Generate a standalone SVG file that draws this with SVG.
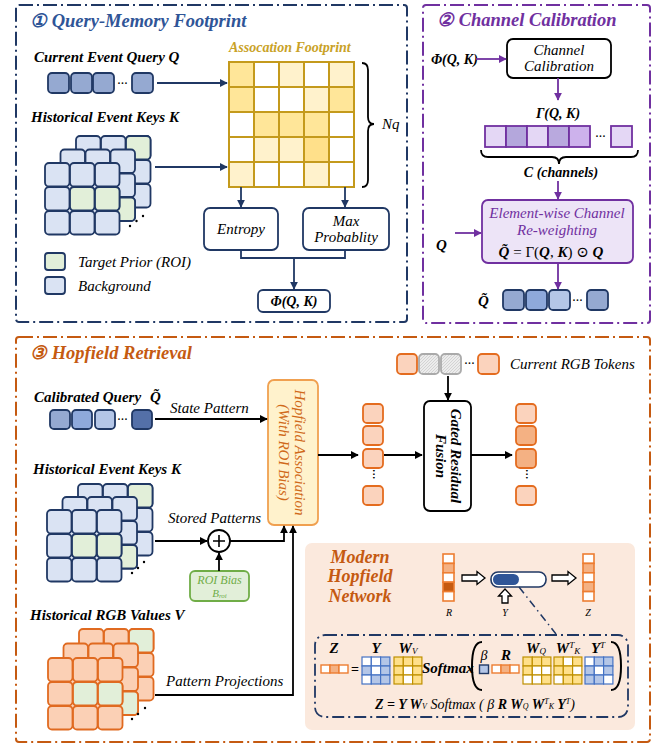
<svg xmlns="http://www.w3.org/2000/svg" width="672" height="747" viewBox="0 0 672 747">
<style>
text{font-family:"Liberation Serif","DejaVu Serif",serif;font-style:italic}
.b{font-weight:bold}
.ttl{font-size:18.5px;font-weight:bold}
.t14{font-size:14px}
.t15{font-size:15px}
.kb{fill:#dae3f3;stroke:#203864;stroke-width:1.8}
.kg{fill:#e2efd9;stroke:#203864;stroke-width:1.8}
.rb{fill:#fbd0b5;stroke:#e06a20;stroke-width:1.8}
.rg{fill:#e2efd9;stroke:#e06a20;stroke-width:1.8}
.qt{stroke:#203864;stroke-width:1.8}
.ot{fill:#fbd3bd;stroke:#e46c1f;stroke-width:1.8}
.od{fill:#f4b183;stroke:#e46c1f;stroke-width:1.8}
.gc{stroke:#c49a1c;stroke-width:2}
.ln{fill:none;stroke-width:1.8}
.nv{stroke:#203864}
.pu{stroke:#7030a0}
.bk{stroke:#000}
.panel{fill:none;stroke-width:2;stroke-dasharray:14 4 2 4}
.mb{stroke:#4472c4;stroke-width:1.2}
.mg{stroke:#bf9000;stroke-width:1.2}
.hol{fill:#fff;stroke:#000;stroke-width:1.3}
</style>
<defs>
<marker id="aN" viewBox="0 0 10 10" refX="9" refY="5" markerWidth="8" markerHeight="8" markerUnits="userSpaceOnUse" orient="auto"><path d="M0,0 L10,5 L0,10 z" fill="#203864"/></marker>
<marker id="aP" viewBox="0 0 10 10" refX="9" refY="5" markerWidth="8" markerHeight="8" markerUnits="userSpaceOnUse" orient="auto"><path d="M0,0 L10,5 L0,10 z" fill="#7030a0"/></marker>
<marker id="aK" viewBox="0 0 10 10" refX="9" refY="5" markerWidth="8" markerHeight="8" markerUnits="userSpaceOnUse" orient="auto"><path d="M0,0 L10,5 L0,10 z" fill="#000"/></marker>
<pattern id="hatch" width="3" height="3" patternUnits="userSpaceOnUse"><rect width="3" height="3" fill="#ececec"/><path d="M0,3 L3,0" stroke="#c8c8c8" stroke-width="0.7"/></pattern>
<g id="layer">
<rect x="0" y="0" width="24.5" height="23.5" rx="4"/><rect x="25" y="0" width="24.5" height="23.5" rx="4"/><rect x="50" y="0" width="24.5" height="23.5" rx="4"/>
<rect x="0" y="24" width="24.5" height="23.5" rx="4"/><rect x="25" y="24" width="24.5" height="23.5" rx="4"/><rect x="50" y="24" width="24.5" height="23.5" rx="4"/>
<rect x="0" y="48" width="24.5" height="23.5" rx="4"/><rect x="25" y="48" width="24.5" height="23.5" rx="4"/><rect x="50" y="48" width="24.5" height="23.5" rx="4"/>
</g>
</defs>
<rect width="672" height="747" fill="#fff"/>

<!-- Panel borders -->
<rect class="panel" x="16" y="5" width="391" height="317" rx="3" stroke="#203864"/>
<rect class="panel" x="423" y="5" width="227" height="318" rx="3" stroke="#7030a0"/>
<rect class="panel" x="16" y="337" width="634" height="405" rx="3" stroke="#c55a11"/>

<!-- ===== Panel 1 ===== -->
<g id="panel1-title"><text class="ttl" x="30" y="27" fill="#2f5597">① Query-Memory Footprint</text></g>
<g id="query-Q">
<text class="t15 b" x="34" y="62">Current Event Query Q</text>
<rect class="qt" x="48" y="73" width="21" height="20" rx="4" fill="#95a9d1"/>
<rect class="qt" x="71" y="73" width="21" height="20" rx="4" fill="#95a9d1"/>
<rect class="qt" x="93" y="73" width="21" height="20" rx="4" fill="#95a9d1"/>
<text class="t14" x="117" y="88">···</text>
<rect class="qt" x="132" y="73" width="21" height="20" rx="4" fill="#95a9d1"/>
</g>
<g id="keys-K">
<text class="t15 b" x="31" y="122">Historical Event Keys K</text>
<use href="#layer" class="kb" x="76" y="136"/>
<rect class="kg" x="126" y="136" width="24.5" height="23.5" rx="4"/>
<use href="#layer" class="kb" x="60.5" y="149.5"/>
<rect class="kg" x="110.5" y="197.5" width="24.5" height="23.5" rx="4"/>
<use href="#layer" class="kb" x="45" y="163"/>
<rect class="kg" x="70" y="187" width="24.5" height="23.5" rx="4"/>
<rect class="kg" x="95" y="187" width="24.5" height="23.5" rx="4"/>
<circle cx="130" cy="226" r="1.2"/><circle cx="136.5" cy="221" r="1.2"/><circle cx="143" cy="216" r="1.2"/>
</g>
<g id="legend">
<rect class="kg" x="45" y="253" width="20" height="17" rx="3"/>
<text class="t15" x="78" y="267">Target Prior (ROI)</text>
<rect class="kb" x="45" y="277" width="20" height="17" rx="3"/>
<text class="t15" x="78" y="291">Background</text>
</g>
<g id="footprint">
<text class="t14 b" x="229" y="52" fill="#c9a227">Assocation Footprint</text>
<rect x="229" y="62" width="25" height="25" fill="#ffe699"/><rect x="254" y="62" width="25" height="25" fill="#fff"/><rect x="279" y="62" width="25" height="25" fill="#fff2cc"/><rect x="304" y="62" width="25" height="25" fill="#fff"/><rect x="329" y="62" width="25" height="25" fill="#fff2cc"/>
<rect x="229" y="87" width="25" height="25" fill="#ffe699"/><rect x="254" y="87" width="25" height="25" fill="#fff"/><rect x="279" y="87" width="25" height="25" fill="#fff"/><rect x="304" y="87" width="25" height="25" fill="#fff2cc"/><rect x="329" y="87" width="25" height="25" fill="#ffe699"/>
<rect x="229" y="112" width="25" height="25" fill="#fff"/><rect x="254" y="112" width="25" height="25" fill="#ffe699"/><rect x="279" y="112" width="25" height="25" fill="#ffe699"/><rect x="304" y="112" width="25" height="25" fill="#ffe699"/><rect x="329" y="112" width="25" height="25" fill="#fff"/>
<rect x="229" y="137" width="25" height="25" fill="#fff"/><rect x="254" y="137" width="25" height="25" fill="#fff2cc"/><rect x="279" y="137" width="25" height="25" fill="#fff2cc"/><rect x="304" y="137" width="25" height="25" fill="#ffe08a"/><rect x="329" y="137" width="25" height="25" fill="#fff"/>
<rect x="229" y="162" width="25" height="25" fill="#fff2cc"/><rect x="254" y="162" width="25" height="25" fill="#fff"/><rect x="279" y="162" width="25" height="25" fill="#fff"/><rect x="304" y="162" width="25" height="25" fill="#fff2cc"/><rect x="329" y="162" width="25" height="25" fill="#fff"/>
<path class="gc" fill="none" d="M229,62 H354 V187 H229 Z M254,62 V187 M279,62 V187 M304,62 V187 M329,62 V187 M229,87 H354 M229,112 H354 M229,137 H354 M229,162 H354"/>
<path class="ln bk" d="M362,63 Q368,63 368,70 L368,117 Q368,124 374,124 Q368,124 368,131 L368,180 Q368,187 362,187"/>
<text class="t15" x="382" y="129">Nq</text>
</g>
<g id="entropy"><rect class="ln nv" x="204" y="208" width="74" height="42" rx="6" fill="#fff"/><text class="t15" x="241" y="234" text-anchor="middle">Entropy</text></g>
<g id="maxprob"><rect class="ln nv" x="303" y="208" width="86" height="42" rx="6" fill="#fff"/><text class="t15" x="346" y="226" text-anchor="middle">Max</text><text class="t15" x="346" y="242" text-anchor="middle">Probablity</text></g>
<g id="phi"><rect class="ln nv" x="258" y="290" width="72" height="22" rx="5" fill="#fff"/><text class="t14 b" x="294" y="306" text-anchor="middle">Φ(Q, K)</text></g>

<!-- ===== Panel 2 ===== -->
<g id="panel2-title"><text class="ttl" x="437" y="26" fill="#7030a0">② Channel Calibration</text></g>
<g id="phi-in"><text class="t14 b" x="431" y="64">Φ(Q, K)</text></g>
<g id="channel-cal"><rect class="ln bk" x="507" y="39" width="104" height="39" rx="6" fill="#fff"/><text class="t15" x="559" y="55" text-anchor="middle">Channel</text><text class="t15" x="559" y="71" text-anchor="middle">Calibration</text></g>
<g id="gamma">
<text class="t14 b" x="558" y="118" text-anchor="middle">Γ(Q, K)</text>
<g stroke="#7030a0" stroke-width="1.8">
<rect x="485" y="126" width="21" height="21" fill="#e4d7f5"/><rect x="506" y="126" width="21" height="21" fill="#b4a7dc"/><rect x="527" y="126" width="21" height="21" fill="#e4d7f5"/><rect x="548" y="126" width="21" height="21" fill="#b9a9de"/><rect x="569" y="126" width="21" height="21" fill="#cdb2ec"/><rect x="611" y="126" width="21" height="21" fill="#e4d7f5"/>
</g>
<text class="t14" x="595" y="141">···</text>
<path class="ln bk" d="M481,150 Q481,157 488,157 L552,157 Q559,157 559,164 Q559,157 566,157 L631,157 Q638,157 638,150"/>
<text class="t14 b" x="561" y="177" text-anchor="middle">C (channels)</text>
</g>
<g id="reweight">
<rect x="482" y="200" width="151" height="63" rx="6" fill="#ede4f7" stroke="#7030a0" stroke-width="1.8"/>
<text class="t15" x="557" y="218" text-anchor="middle" fill="#7030a0">Element-wise Channel</text>
<text class="t15" x="557" y="235" text-anchor="middle" fill="#7030a0">Re-weighting</text>
<text class="t15" x="551" y="257" text-anchor="middle"><tspan class="b">Q̃</tspan><tspan style="font-style:normal"> = Γ(</tspan><tspan class="b">Q</tspan><tspan style="font-style:normal">, </tspan><tspan class="b">K</tspan><tspan style="font-style:normal">) ⊙ </tspan><tspan class="b">Q</tspan></text>
</g>
<g id="q-in2"><text class="t15 b" x="436" y="250">Q</text></g>
<g id="qtilde-out">
<text class="t15 b" x="478" y="306">Q̃</text>
<rect class="qt" x="503" y="290" width="21" height="20" rx="4" fill="#95a9d1"/>
<rect class="qt" x="526" y="290" width="21" height="20" rx="4" fill="#8ea9db"/>
<rect class="qt" x="549" y="290" width="21" height="20" rx="4" fill="#b4c6e7"/>
<text class="t14" x="572" y="305">···</text>
<rect class="qt" x="587" y="290" width="21" height="20" rx="4" fill="#95a9d1"/>
</g>

<!-- ===== Panel 3 ===== -->
<g id="panel3-title"><text class="ttl" x="30" y="359" fill="#c55a11">③ Hopfield Retrieval</text></g>
<g id="cal-query">
<text class="t15 b" x="34" y="402">Calibrated Query</text>
<text class="t15 b" x="150" y="402">Q̃</text>
<rect class="qt" x="50" y="410" width="20" height="19" rx="4" fill="#95a9d1"/>
<rect class="qt" x="72" y="410" width="20" height="19" rx="4" fill="#8ea9db"/>
<rect class="qt" x="95" y="410" width="20" height="19" rx="4" fill="#b4c6e7"/>
<text class="t14" x="117" y="424">···</text>
<rect class="qt" x="132" y="410" width="20" height="19" rx="4" fill="#5470a8"/>
</g>
<g id="keys-K3">
<text class="t15 b" x="33" y="474">Historical Event Keys K</text>
<use href="#layer" class="kb" x="78" y="484"/>
<rect class="kg" x="128" y="484" width="24.5" height="23.5" rx="4"/>
<use href="#layer" class="kb" x="62.5" y="497"/>
<rect class="kg" x="112.5" y="545" width="24.5" height="23.5" rx="4"/>
<use href="#layer" class="kb" x="47" y="510"/>
<rect class="kg" x="72" y="534" width="24.5" height="23.5" rx="4"/>
<rect class="kg" x="97" y="534" width="24.5" height="23.5" rx="4"/>
<circle cx="132" cy="573" r="1.2"/><circle cx="138" cy="568" r="1.2"/><circle cx="144" cy="562" r="1.2"/>
</g>
<g id="rgb-V">
<text class="t15 b" x="30" y="620">Historical RGB Values V</text>
<use href="#layer" class="rb" x="79" y="629"/>
<rect class="rg" x="129" y="629" width="24.5" height="23.5" rx="4"/>
<use href="#layer" class="rb" x="63.5" y="643.5"/>
<rect class="rg" x="113.5" y="691.5" width="24.5" height="23.5" rx="4"/>
<use href="#layer" class="rb" x="48" y="658"/>
<rect class="rg" x="73" y="682" width="24.5" height="23.5" rx="4"/>
<rect class="rg" x="98" y="682" width="24.5" height="23.5" rx="4"/>
<circle cx="132" cy="719" r="1.2"/><circle cx="138" cy="714" r="1.2"/><circle cx="145" cy="708" r="1.2"/>
</g>
<g id="plus"><circle cx="219" cy="541" r="11" fill="#fff" stroke="#000" stroke-width="1.8"/><path d="M213,541 H225 M219,535 V547" stroke="#000" stroke-width="1.6"/></g>
<g id="roi-bias"><rect x="190" y="571" width="59" height="30" rx="5" fill="#e2efd9" stroke="#70ad47" stroke-width="1.8"/><text x="219.5" y="584" font-size="12" text-anchor="middle" fill="#70ad47">ROI Bias</text><text x="219.5" y="597" font-size="11" text-anchor="middle" fill="#70ad47">B<tspan font-size="7" dy="1">roi</tspan></text></g>
<g id="hopfield-assoc">
<rect x="268" y="380" width="50" height="145" rx="6" fill="#fff2cc" stroke="#f0a050" stroke-width="1.8"/>
<g transform="translate(293,452.5) rotate(90)" fill="#d06a1a">
<text class="t15" x="0" y="-2" text-anchor="middle">Hopfield Association</text>
<text class="t15" x="0" y="14" text-anchor="middle">(With ROI Bias)</text>
</g>
</g>
<g id="retrieved">
<rect class="ot" x="363" y="404" width="20" height="19" rx="4"/>
<rect class="ot" x="363" y="426" width="20" height="19" rx="4"/>
<rect class="ot" x="363" y="449" width="20" height="19" rx="4"/>
<text class="t14" x="373" y="478" text-anchor="middle" transform="rotate(90 373 474)">···</text>
<rect class="ot" x="363" y="486" width="20" height="19" rx="4"/>
</g>
<g id="rgb-tokens">
<rect class="ot" x="397" y="354" width="20" height="20" rx="4"/>
<rect x="419" y="354" width="20" height="20" rx="4" fill="url(#hatch)" stroke="#aaa" stroke-width="1.8"/>
<rect x="441" y="354" width="20" height="20" rx="4" fill="url(#hatch)" stroke="#aaa" stroke-width="1.8"/>
<text class="t14" x="464" y="368">···</text>
<rect class="ot" x="478" y="354" width="21" height="20" rx="4"/>
<text class="t15" x="510" y="369">Current RGB Tokens</text>
</g>
<g id="gated">
<rect x="424" y="401" width="47" height="110" rx="6" fill="#fff" stroke="#000" stroke-width="1.8"/>
<g transform="translate(447.5,456) rotate(90)">
<text class="t15 b" x="0" y="-3" text-anchor="middle">Gated Residual</text>
<text class="t15 b" x="0" y="12" text-anchor="middle">Fusion</text>
</g>
</g>
<g id="fused">
<rect class="ot" x="516" y="404" width="20" height="19" rx="4"/>
<rect class="od" x="516" y="426" width="20" height="19" rx="4"/>
<rect class="od" x="516" y="449" width="20" height="19" rx="4"/>
<text class="t14" x="526" y="478" text-anchor="middle" transform="rotate(90 526 474)">···</text>
<rect class="ot" x="516" y="486" width="20" height="19" rx="4"/>
</g>

<!-- Modern Hopfield Network -->
<g id="mhn">
<rect x="305" y="543" width="330" height="187" rx="7" fill="#fbe9dd"/>
<text class="b" x="360" y="563" font-size="18" text-anchor="middle" fill="#c55a11">Modern</text>
<text class="b" x="360" y="582" font-size="18" text-anchor="middle" fill="#c55a11">Hopfield</text>
<text class="b" x="360" y="602" font-size="18" text-anchor="middle" fill="#c55a11">Network</text>
<g stroke="#ed7d31" stroke-width="1.6">
<rect x="443" y="554" width="11" height="9.4" fill="#fff"/><rect x="443" y="563.4" width="11" height="9.4" fill="#f4b183"/><rect x="443" y="572.8" width="11" height="9.4" fill="#fff"/><rect x="443" y="582.2" width="11" height="9.4" fill="#c55a11"/><rect x="443" y="591.6" width="11" height="9.4" fill="#fff"/>
<rect x="583" y="554" width="11" height="9.4" fill="#fff"/><rect x="583" y="563.4" width="11" height="9.4" fill="#f4b183"/><rect x="583" y="572.8" width="11" height="9.4" fill="#fff"/><rect x="583" y="582.2" width="11" height="9.4" fill="#f4b183"/><rect x="583" y="591.6" width="11" height="9.4" fill="#fff"/>
</g>
<text x="449" y="616" font-size="10" text-anchor="middle">R</text>
<polygon class="hol" points="462,575 477,575 477,571.5 485,578 477,584.5 477,581 462,581"/>
<rect x="491" y="572" width="55" height="15" rx="7" fill="#fff" stroke="#203864" stroke-width="1.6"/>
<rect x="493" y="574" width="26" height="11" rx="5.5" fill="#2f5597"/>
<polygon class="hol" points="502,603 502,596 498.5,596 505,589 511.5,596 508,596 508,603"/>
<text x="505" y="616" font-size="10" text-anchor="middle">Y</text>
<polygon class="hol" points="552,575 568,575 568,571.5 576,578 568,584.5 568,581 552,581"/>
<text x="588" y="616" font-size="10" text-anchor="middle">Z</text>
<path d="M519,587 L556,634" fill="none" stroke="#203864" stroke-width="1.5" stroke-dasharray="8 4 1.5 4"/>
</g>
<g id="formula">
<rect x="315" y="635" width="313" height="82" rx="10" fill="none" stroke="#203864" stroke-width="1.8" stroke-dasharray="12 4 2 4"/>
<text class="t15 b" x="334" y="653" text-anchor="middle">Z</text>
<g stroke="#ed7d31" stroke-width="1.4"><rect x="321" y="665" width="9" height="8" fill="#fff"/><rect x="330" y="665" width="9" height="8" fill="#f4b183"/><rect x="339" y="665" width="9" height="8" fill="#fff"/></g>
<text class="b" x="355" y="674" font-size="14" text-anchor="middle" style="font-style:normal">=</text>
<text class="t15 b" x="376" y="653" text-anchor="middle">Y</text>
<g class="mb"><rect x="362" y="657" width="9.3" height="9" fill="#fff"/><rect x="371.3" y="657" width="9.3" height="9" fill="#fff"/><rect x="380.6" y="657" width="9.3" height="9" fill="#b4c6e7"/><rect x="362" y="666" width="9.3" height="9" fill="#b4c6e7"/><rect x="371.3" y="666" width="9.3" height="9" fill="#fff"/><rect x="380.6" y="666" width="9.3" height="9" fill="#b4c6e7"/><rect x="362" y="675" width="9.3" height="9" fill="#fff"/><rect x="371.3" y="675" width="9.3" height="9" fill="#b4c6e7"/><rect x="380.6" y="675" width="9.3" height="9" fill="#b4c6e7"/></g>
<text class="t15 b" x="408" y="653" text-anchor="middle">W<tspan font-size="9" dy="1" font-weight="normal">V</tspan></text>
<g class="mg"><rect x="394" y="657" width="9.3" height="9" fill="#ffe08a"/><rect x="403.3" y="657" width="9.3" height="9" fill="#ffe08a"/><rect x="412.6" y="657" width="9.3" height="9" fill="#ffe08a"/><rect x="394" y="666" width="9.3" height="9" fill="#ffe08a"/><rect x="403.3" y="666" width="9.3" height="9" fill="#fff"/><rect x="412.6" y="666" width="9.3" height="9" fill="#ffe08a"/><rect x="394" y="675" width="9.3" height="9" fill="#ffe08a"/><rect x="403.3" y="675" width="9.3" height="9" fill="#fff"/><rect x="412.6" y="675" width="9.3" height="9" fill="#ffe08a"/></g>
<text class="t15 b" x="422" y="673">Softmax</text>
<path d="M482,642 Q472,642 472,666 Q472,690 482,690" fill="none" stroke="#000" stroke-width="2"/>
<path d="M611,642 Q621,642 621,666 Q621,690 611,690" fill="none" stroke="#000" stroke-width="2"/>
<text x="484" y="660" font-size="14" text-anchor="middle">β</text>
<rect x="479.5" y="665" width="9" height="8.5" fill="#b4c6e7" stroke="#203864" stroke-width="1.4"/>
<text class="t15 b" x="506" y="660" text-anchor="middle">R</text>
<g stroke="#ed7d31" stroke-width="1.4"><rect x="492" y="665" width="9" height="8" fill="#fff"/><rect x="501" y="665" width="9" height="8" fill="#f4b183"/><rect x="510" y="665" width="9" height="8" fill="#fff"/></g>
<text class="t15 b" x="536" y="653" text-anchor="middle">W<tspan font-size="9" dy="1" font-weight="normal">Q</tspan></text>
<g class="mg"><rect x="523" y="657" width="9.3" height="9" fill="#ffe08a"/><rect x="532.3" y="657" width="9.3" height="9" fill="#ffe08a"/><rect x="541.6" y="657" width="9.3" height="9" fill="#ffe08a"/><rect x="523" y="666" width="9.3" height="9" fill="#ffe08a"/><rect x="532.3" y="666" width="9.3" height="9" fill="#fff"/><rect x="541.6" y="666" width="9.3" height="9" fill="#fff"/><rect x="523" y="675" width="9.3" height="9" fill="#fff"/><rect x="532.3" y="675" width="9.3" height="9" fill="#fff"/><rect x="541.6" y="675" width="9.3" height="9" fill="#ffe08a"/></g>
<text class="t15 b" x="568" y="653" text-anchor="middle">W<tspan font-size="9" dy="-5" font-weight="normal">T</tspan><tspan font-size="9" dy="6" font-weight="normal">K</tspan></text>
<g class="mg"><rect x="554" y="657" width="9.3" height="9" fill="#ffe08a"/><rect x="563.3" y="657" width="9.3" height="9" fill="#fff"/><rect x="572.6" y="657" width="9.3" height="9" fill="#ffe08a"/><rect x="554" y="666" width="9.3" height="9" fill="#ffe08a"/><rect x="563.3" y="666" width="9.3" height="9" fill="#ffe08a"/><rect x="572.6" y="666" width="9.3" height="9" fill="#fff"/><rect x="554" y="675" width="9.3" height="9" fill="#fff"/><rect x="563.3" y="675" width="9.3" height="9" fill="#ffe08a"/><rect x="572.6" y="675" width="9.3" height="9" fill="#ffe08a"/></g>
<text class="t15 b" x="598" y="653" text-anchor="middle">Y<tspan font-size="9" dy="-5" font-weight="normal">T</tspan></text>
<g class="mb"><rect x="585" y="657" width="9.3" height="9" fill="#fff"/><rect x="594.3" y="657" width="9.3" height="9" fill="#b4c6e7"/><rect x="603.6" y="657" width="9.3" height="9" fill="#b4c6e7"/><rect x="585" y="666" width="9.3" height="9" fill="#b4c6e7"/><rect x="594.3" y="666" width="9.3" height="9" fill="#fff"/><rect x="603.6" y="666" width="9.3" height="9" fill="#b4c6e7"/><rect x="585" y="675" width="9.3" height="9" fill="#b4c6e7"/><rect x="594.3" y="675" width="9.3" height="9" fill="#b4c6e7"/><rect x="603.6" y="675" width="9.3" height="9" fill="#fff"/></g>
<text x="475" y="709" font-size="14" text-anchor="middle"><tspan class="b">Z = Y W</tspan><tspan font-size="8">V</tspan> Softmax ( β <tspan class="b">R W</tspan><tspan font-size="8">Q</tspan><tspan class="b"> W</tspan><tspan font-size="8" dy="-5">T</tspan><tspan font-size="8" dy="5">K</tspan><tspan class="b"> Y</tspan><tspan font-size="8" dy="-5">T</tspan><tspan dy="5">)</tspan></text>
</g>

<!-- ===== Connectors ===== -->
<g id="connectors">
<path class="ln nv" d="M157,83 H227" marker-end="url(#aN)"/>
<path class="ln nv" d="M155,167 H227" marker-end="url(#aN)"/>
<path class="ln nv" d="M241,187 V207" marker-end="url(#aN)"/>
<path class="ln nv" d="M345,187 V207" marker-end="url(#aN)"/>
<path class="ln nv" d="M241,250 V258 H345 V250"/>
<path class="ln nv" d="M294,258 V289" marker-end="url(#aN)"/>
<path class="ln pu" d="M476,59 H506" marker-end="url(#aP)"/>
<path class="ln pu" d="M558,78 V100" marker-end="url(#aP)"/>
<path class="ln pu" d="M558,181 V199" marker-end="url(#aP)"/>
<path class="ln pu" d="M455,233 H481" marker-end="url(#aP)"/>
<path class="ln pu" d="M558,263 V289" marker-end="url(#aP)"/>
<path class="ln bk" d="M155,419 H267" marker-end="url(#aK)"/>
<text class="t15" x="170" y="413">State Pattern</text>
<path class="ln bk" d="M155,541 H207" marker-end="url(#aK)"/>
<text class="t15" x="168" y="523">Stored Patterns</text>
<path class="ln bk" d="M219,571 V553" marker-end="url(#aK)"/>
<path class="ln bk" d="M230,541 H284 V526" marker-end="url(#aK)"/>
<path class="ln bk" d="M155,695 H293 V526" marker-end="url(#aK)"/>
<text class="t15" x="166" y="686">Pattern Projections</text>
<path class="ln bk" d="M318,455 H358" marker-end="url(#aK)"/>
<path class="ln bk" d="M384,455 H422" marker-end="url(#aK)"/>
<path class="ln bk" d="M448,376 V400" marker-end="url(#aK)"/>
<path class="ln bk" d="M471,455 H512" marker-end="url(#aK)"/>
</g>
</svg>
